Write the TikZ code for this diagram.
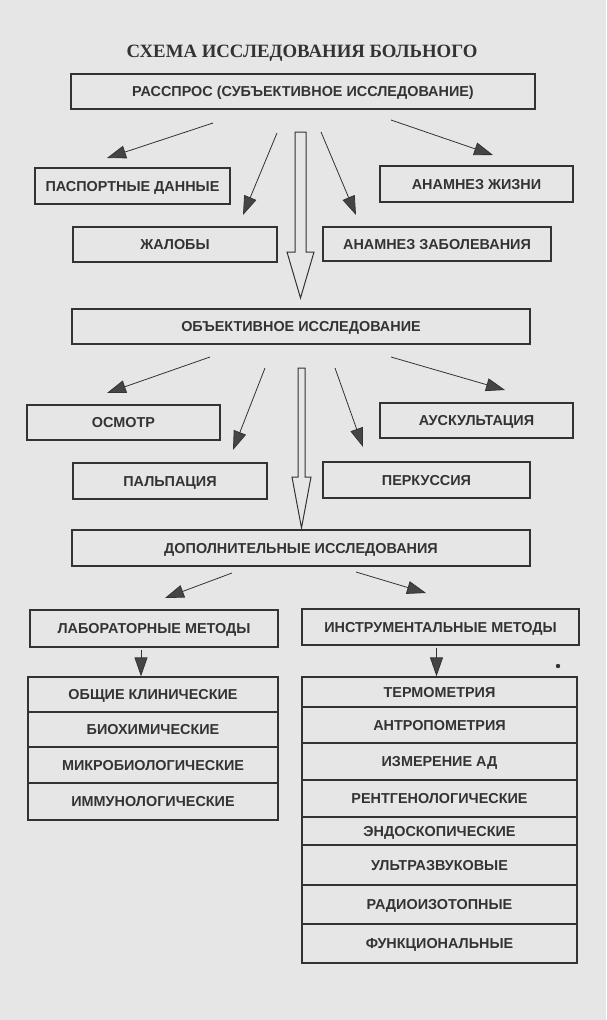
\documentclass[tikz,border=0pt]{standalone}
\usepackage{fontspec}
\setmainfont{Liberation Sans}
\newfontfamily\titlefont{Liberation Serif}
\usetikzlibrary{arrows.meta}
\definecolor{bg}{HTML}{E6E6E6}
\definecolor{ink}{HTML}{333333}
\definecolor{head}{HTML}{454545}
\begin{document}
\begin{tikzpicture}[x=1pt,y=-1pt,
  box/.style={draw=ink, line width=1.3pt, inner sep=0pt, text=ink,
    text height=10.3pt, text depth=0pt,
    font=\bfseries\fontsize{14.4}{15}\selectfont},
  conn/.style={draw=ink, line width=0.8pt, -{Triangle[length=19pt,width=13pt,fill=head]}},
  hollow/.style={draw=ink, line width=1pt, fill=bg, line join=miter}]
\fill[bg] (0,0) rectangle (606,1020);
\useasboundingbox (0,0) rectangle (606,1020);

\node[text=ink, font=\titlefont\bfseries\fontsize{18.8}{20}\selectfont] (title) at (302,53) {СХЕМА ИССЛЕДОВАНИЯ БОЛЬНОГО};

% level 1
\node[box, minimum width=464pt, minimum height=35pt] (top) at (303,91.5) {РАССПРОС (СУБЪЕКТИВНОЕ ИССЛЕДОВАНИЕ)};
\node[box, minimum width=195pt, minimum height=36pt] (pasp) at (132.5,186) {ПАСПОРТНЫЕ ДАННЫЕ};
\node[box, minimum width=204pt, minimum height=35pt] (zhal) at (175,244.5) {ЖАЛОБЫ};
\node[box, minimum width=193pt, minimum height=36pt] (zhizn) at (476.5,184) {АНАМНЕЗ ЖИЗНИ};
\node[box, minimum width=228pt, minimum height=34pt] (zabol) at (437,244) {АНАМНЕЗ ЗАБОЛЕВАНИЯ};

\coordinate (a1s) at (213,123); \coordinate (a1e) at (107,158);
\coordinate (a2s) at (277,133); \coordinate (a2e) at (243,215);
\coordinate (a3s) at (391,120); \coordinate (a3e) at (493,155);
\coordinate (a4s) at (321,132); \coordinate (a4e) at (356,215);
\draw[conn] (a1s) -- (a1e);
\draw[conn] (a2s) -- (a2e);
\draw[conn] (a3s) -- (a3e);
\draw[conn] (a4s) -- (a4e);

\draw[hollow] (295,132) -- (306,132) -- (306,252) -- (314,252) -- (300.5,298) -- (287,252) -- (295,252) -- cycle;

% level 2
\node[box, minimum width=458pt, minimum height=35pt] (obj) at (301,326.5) {ОБЪЕКТИВНОЕ ИССЛЕДОВАНИЕ};
\node[box, minimum width=193pt, minimum height=35pt] (osm) at (123.5,422.5) {ОСМОТР};
\node[box, minimum width=194pt, minimum height=36pt] (palp) at (170,481) {ПАЛЬПАЦИЯ};
\node[box, minimum width=193pt, minimum height=35pt] (ausk) at (476.5,420.5) {АУСКУЛЬТАЦИЯ};
\node[box, minimum width=207pt, minimum height=36pt] (perk) at (426.5,480) {ПЕРКУССИЯ};

\coordinate (b1s) at (210,357); \coordinate (b1e) at (107,393);
\coordinate (b2s) at (265,368); \coordinate (b2e) at (233,450);
\coordinate (b3s) at (391,357); \coordinate (b3e) at (505,390);
\coordinate (b4s) at (335,368); \coordinate (b4e) at (363,447);
\draw[conn] (b1s) -- (b1e);
\draw[conn] (b2s) -- (b2e);
\draw[conn] (b3s) -- (b3e);
\draw[conn] (b4s) -- (b4e);

\draw[hollow] (298,368) -- (305,368) -- (305,477) -- (311,477) -- (301.5,528) -- (292,477) -- (298,477) -- cycle;

% level 3
\node[box, minimum width=458pt, minimum height=36pt] (dop) at (301,548) {ДОПОЛНИТЕЛЬНЫЕ ИССЛЕДОВАНИЯ};
\node[box, minimum width=248pt, minimum height=37pt] (lab) at (154,628.5) {ЛАБОРАТОРНЫЕ МЕТОДЫ};
\node[box, minimum width=277pt, minimum height=36pt] (instr) at (440.5,627) {ИНСТРУМЕНТАЛЬНЫЕ МЕТОДЫ};

\coordinate (c1s) at (232,573); \coordinate (c1e) at (165,598);
\coordinate (c2s) at (356,572); \coordinate (c2e) at (426,593);
\draw[conn] (c1s) -- (c1e);
\draw[conn] (c2s) -- (c2e);

% left list
\node[box, minimum width=250pt, minimum height=35pt] (l1) at (153,694.5) {ОБЩИЕ КЛИНИЧЕСКИЕ};
\node[box, minimum width=250pt, minimum height=35pt] (l2) at (153,729.5) {БИОХИМИЧЕСКИЕ};
\node[box, minimum width=250pt, minimum height=36pt] (l3) at (153,765) {МИКРОБИОЛОГИЧЕСКИЕ};
\node[box, minimum width=250pt, minimum height=37pt] (l4) at (153,801.5) {ИММУНОЛОГИЧЕСКИЕ};

% right list
\node[box, minimum width=275pt, minimum height=30pt] (r1) at (439.5,692) {ТЕРМОМЕТРИЯ};
\node[box, minimum width=275pt, minimum height=36pt] (r2) at (439.5,725) {АНТРОПОМЕТРИЯ};
\node[box, minimum width=275pt, minimum height=37pt] (r3) at (439.5,761.5) {ИЗМЕРЕНИЕ АД};
\node[box, minimum width=275pt, minimum height=37pt] (r4) at (439.5,798.5) {РЕНТГЕНОЛОГИЧЕСКИЕ};
\node[box, minimum width=275pt, minimum height=28pt] (r5) at (439.5,831) {ЭНДОСКОПИЧЕСКИЕ};
\node[box, minimum width=275pt, minimum height=40pt] (r6) at (439.5,865) {УЛЬТРАЗВУКОВЫЕ};
\node[box, minimum width=275pt, minimum height=39pt] (r7) at (439.5,904.5) {РАДИОИЗОТОПНЫЕ};
\node[box, minimum width=275pt, minimum height=39pt] (r8) at (439.5,943.5) {ФУНКЦИОНАЛЬНЫЕ};

\draw[conn] (lab.south -| l1.north) ++(-12,2) coordinate (d1s) -- (d1s |- l1.north);
\draw[conn] (instr.south) ++(-4,2) coordinate (d2s) -- (d2s |- r1.north);

\fill[ink] (558,666) circle (2.2pt);
\end{tikzpicture}
\end{document}
